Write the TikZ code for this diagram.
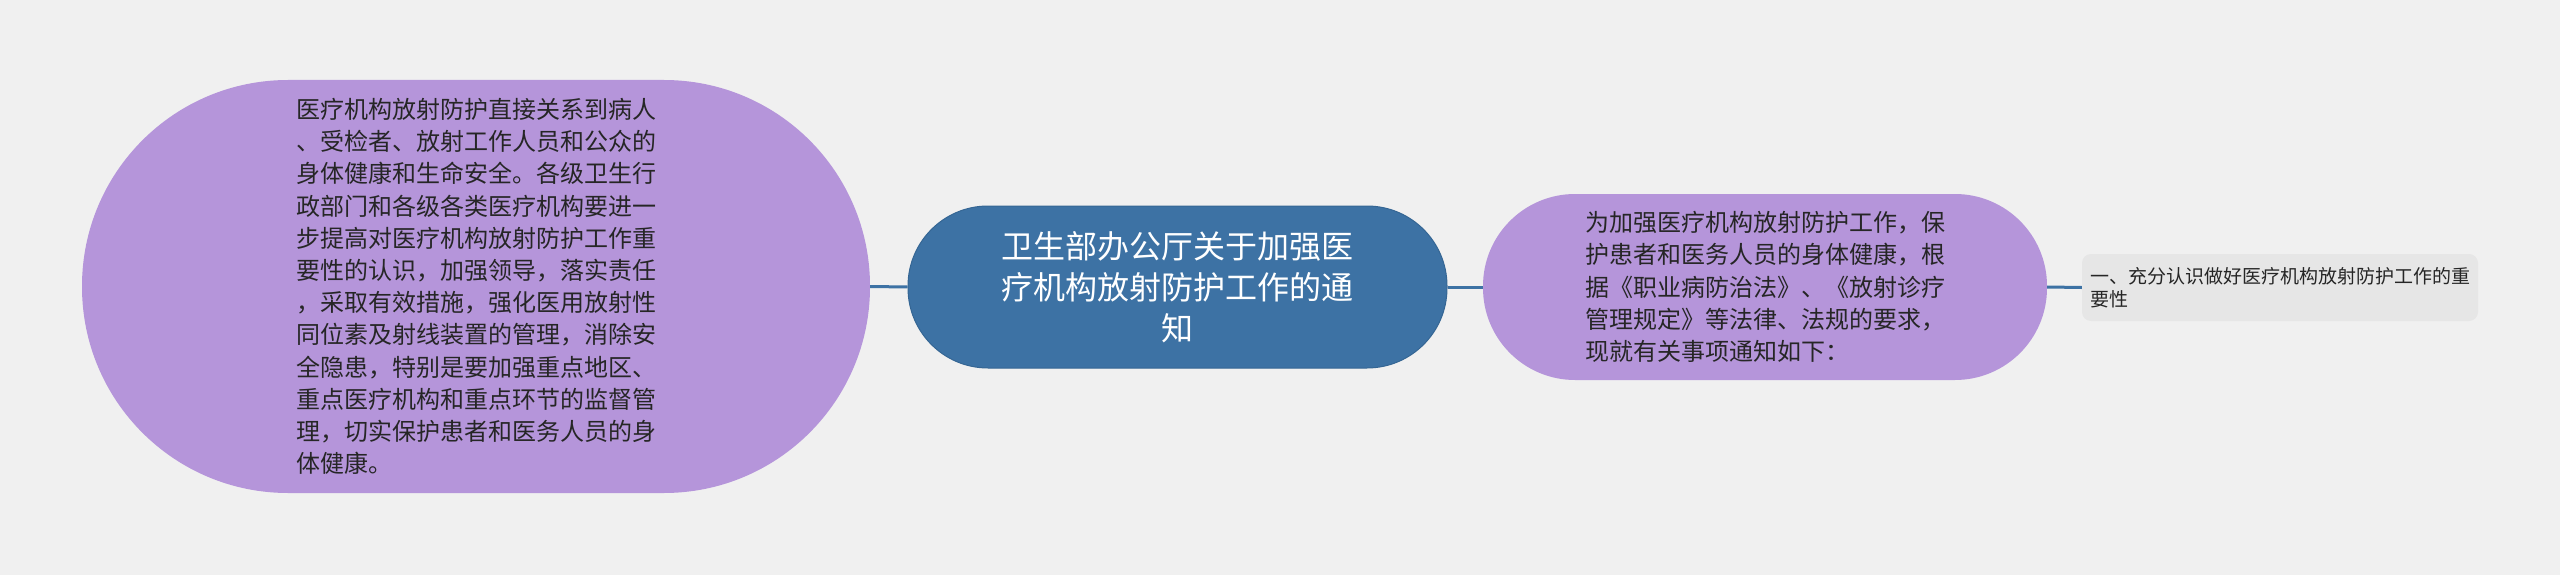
\documentclass[tikz,border=0pt]{standalone}
\usepackage{fontspec}
\newfontfamily\cjk{Noto Sans CJK SC}
\definecolor{bgc}{HTML}{F0F0F0}
\definecolor{purp}{HTML}{B595DA}
\definecolor{bluec}{HTML}{3D72A4}
\definecolor{bluedk}{HTML}{356694}
\definecolor{greyc}{HTML}{E6E6E6}
\definecolor{txt}{HTML}{262626}
\tikzset{
  purpnode/.style={draw=none, fill=purp, inner sep=0pt, align=left, text=txt,
    font=\cjk\fontsize{24}{32.2}\selectfont},
  rootnode/.style={draw=bluedk, line width=1pt, fill=bluec, inner sep=0pt, align=center, text=white,
    font=\cjk\fontsize{32}{41}\selectfont},
  leafnode/.style={draw=none, fill=greyc, inner sep=0pt, align=left, text=txt, rounded corners=9pt,
    font=\cjk\fontsize{19}{23}\selectfont},
  conn/.style={draw=bluec, line width=3pt}
}
\begin{document}
\begin{tikzpicture}[x=1pt,y=-1pt]
\useasboundingbox (0,0) rectangle (2560,575);
\fill[bgc] (0,0) rectangle (2560,575);
\node[purpnode, minimum width=788pt, minimum height=413pt, rounded corners=206pt] (left) at (476,286.5)
{医疗机构放射防护直接关系到病人\\、受检者、放射工作人员和公众的\\身体健康和生命安全。各级卫生行\\政部门和各级各类医疗机构要进一\\步提高对医疗机构放射防护工作重\\要性的认识，加强领导，落实责任\\，采取有效措施，强化医用放射性\\同位素及射线装置的管理，消除安\\全隐患，特别是要加强重点地区、\\重点医疗机构和重点环节的监督管\\理，切实保护患者和医务人员的身\\体健康。};
\node[rootnode, minimum width=539pt, minimum height=162pt, rounded corners=80pt] (root) at (1177.5,287)
{卫生部办公厅关于加强医\\疗机构放射防护工作的通\\知};
\node[purpnode, minimum width=564pt, minimum height=186pt, rounded corners=92pt] (right) at (1765,287)
{为加强医疗机构放射防护工作，保\\护患者和医务人员的身体健康，根\\据《职业病防治法》、《放射诊疗\\管理规定》等法律、法规的要求，\\现就有关事项通知如下：};
\node[leafnode, minimum width=396pt, minimum height=67pt] (leaf) at (2280,287.5)
{一、充分认识做好医疗机构放射防护工作的重\\要性\hspace*{342pt}};
\draw[conn] (left.east) -- (root.west);
\draw[conn] (root.east) -- (right.west);
\draw[conn] (right.east) -- (leaf.west);
\end{tikzpicture}
\end{document}
